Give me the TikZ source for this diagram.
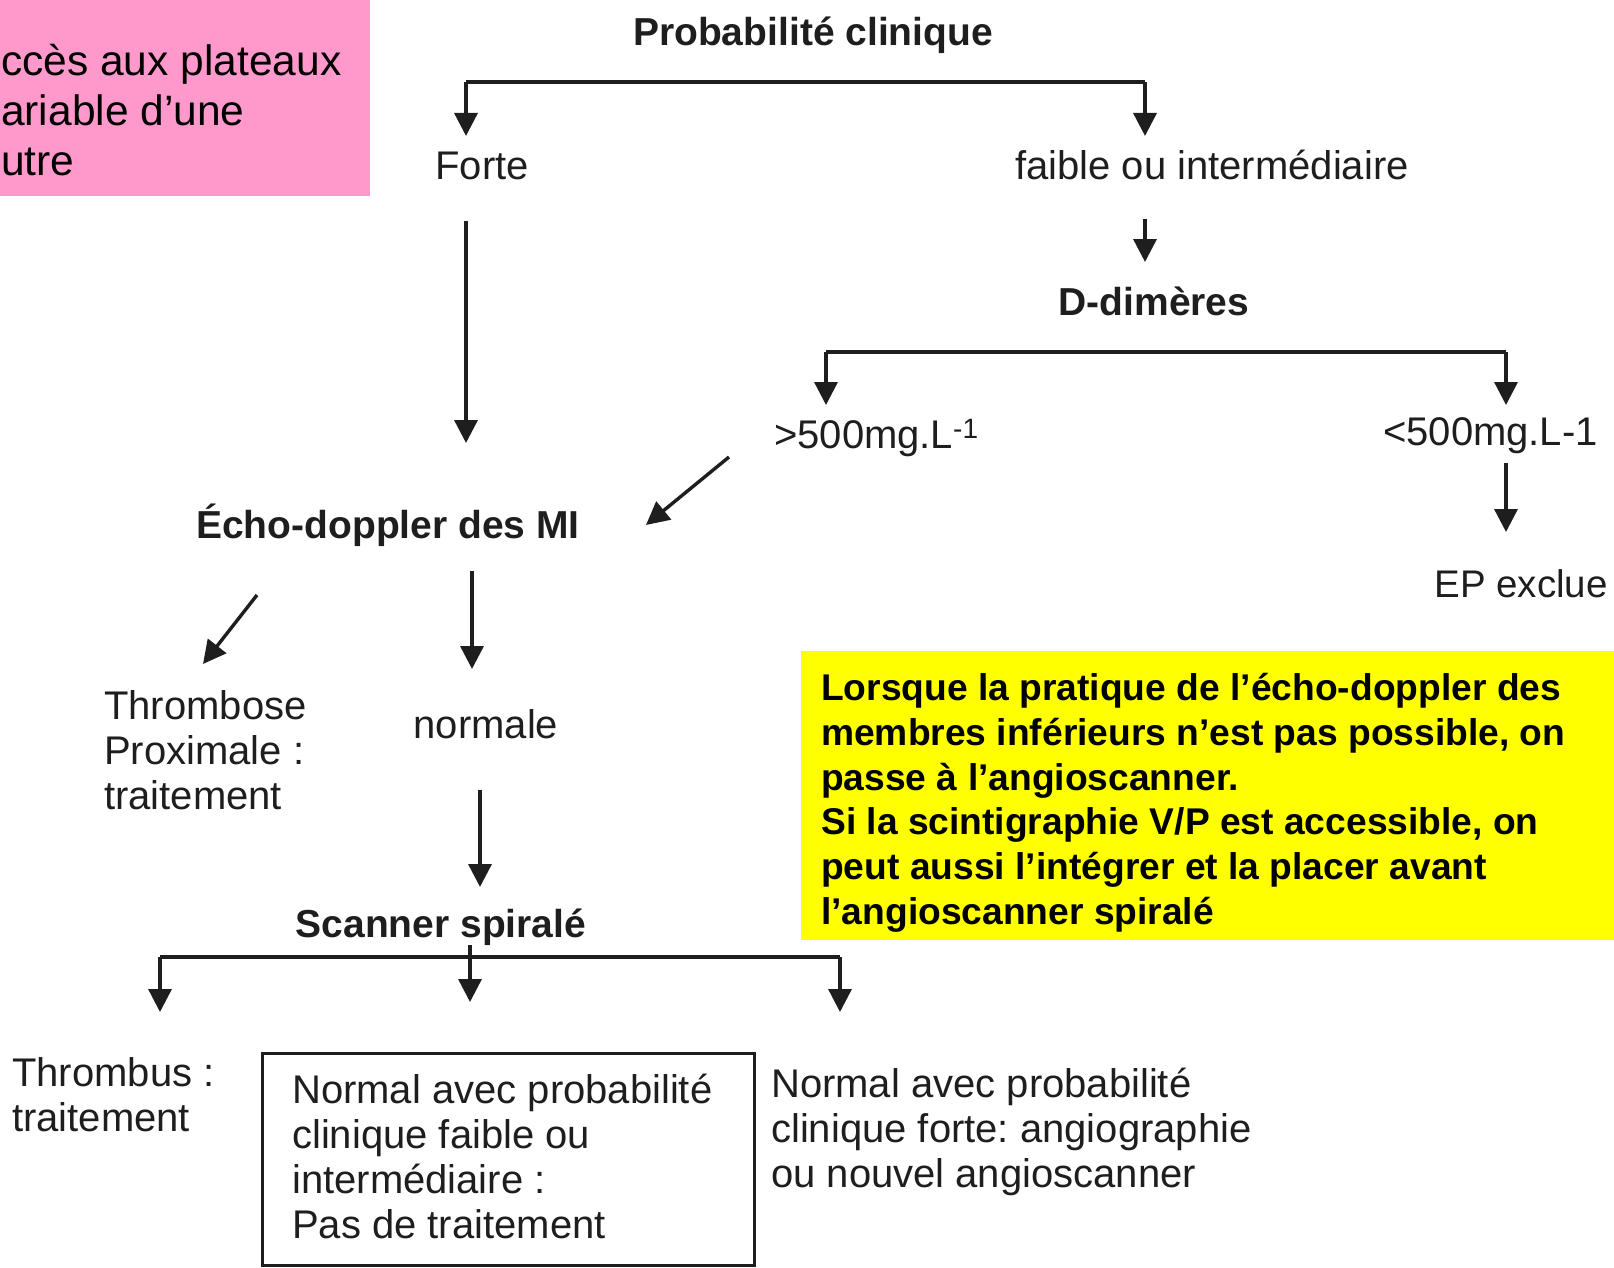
\documentclass[tikz,border=0pt]{standalone}
\usepackage{fontspec}
\setmainfont{Liberation Sans}
\usetikzlibrary{arrows.meta}
\definecolor{pinkc}{RGB}{255,153,204}
\definecolor{yellowc}{RGB}{255,255,0}
\definecolor{inkc}{RGB}{30,30,30}
\frenchspacing
\begin{document}
\begin{tikzpicture}[x=1pt,y=-1pt,
  txt/.style={inner sep=0pt, text=inkc, align=left, font=\fontsize{40}{45}\selectfont\frenchspacing},
  btxt/.style={inner sep=0pt, text=inkc, font=\fontsize{39}{45}\selectfont\bfseries},
  conn/.style={draw=inkc, line width=3.4pt},
  arr/.style={conn, -{Triangle[length=23pt,width=23pt]}},
]
\useasboundingbox (0,0) rectangle (1614,1268);

% pink note (clipped at left edge)
\fill[pinkc] (0,0) rectangle (370,196);
\node[inner sep=0pt, anchor=north west, align=left, font=\fontsize{42.5}{50}\selectfont] (pinknote) at (1,44)
  {ccès aux plateaux\\ariable d’une\\utre};

% yellow note
\fill[yellowc] (801,651) rectangle (1614,940);
\node[inner sep=0pt, anchor=north west, align=left, font=\fontsize{37.2}{44.8}\selectfont\bfseries] (yellownote) at (821,673)
  {Lorsque la pratique de l’écho-doppler des\\
   membres inférieurs n’est pas possible, on\\
   passe à l’angioscanner.\\
   Si la scintigraphie V/P est accessible, on\\
   peut aussi l’intégrer et la placer avant\\
   l’angioscanner spiralé};

% nodes
\node[btxt, anchor=base] (prob) at (813,46) {Probabilité clinique};
\node[txt, anchor=base] (forte) at (482,180) {Forte};
\node[txt, anchor=base] (faible) at (1212,180) {faible ou intermédiaire};
\node[btxt, anchor=base] (ddim) at (1154,315) {D-dimères};
\node[txt, anchor=base west] (sup) at (774,448) {>500mg.L\textsuperscript{-1}};
\node[txt, anchor=base east] (inf) at (1598,445) {<500mg.L-1};
\node[txt, anchor=base east, font=\fontsize{38.5}{45}\selectfont] (epex) at (1608,597) {EP exclue};
\node[btxt, anchor=base] (echo) at (388,538) {Écho-doppler des MI};
\node[txt, anchor=north west] (thromb) at (104,690) {Thrombose\\Proximale :\\traitement};
\node[txt, anchor=base] (normale) at (486,738) {normale};
\node[btxt, anchor=base] (scan) at (441,937) {Scanner spiralé};
\node[txt, anchor=north west] (thrombus) at (12,1057) {Thrombus :\\traitement};
\node[draw=inkc, line width=3pt, inner sep=0pt, minimum width=492pt, minimum height=212pt, anchor=north west] (box) at (261,1052) {};
\node[txt, anchor=north west] (normfaible) at (292,1074)
  {Normal avec probabilité\\clinique faible ou\\intermédiaire :\\Pas de traitement};
\node[txt, anchor=north west] (normforte) at (771,1068)
  {Normal avec probabilité\\clinique forte: angiographie\\ou nouvel angioscanner};

% connector points
\coordinate (pL) at (466,82);
\coordinate (pR) at (1145,82);
\coordinate (pLt) at (466,136);
\coordinate (pRt) at (1145,136);
\coordinate (fs) at (466,221);
\coordinate (fe) at (466,443);
\coordinate (ws) at (1145,219);
\coordinate (we) at (1145,262);
\coordinate (dL) at (826,352);
\coordinate (dR) at (1506,352);
\coordinate (dLt) at (826,405);
\coordinate (dRt) at (1506,405);
\coordinate (is) at (1506,463);
\coordinate (ie) at (1506,532);
\coordinate (ss) at (729,457);
\coordinate (se) at (646,525);
\coordinate (es1) at (257,595);
\coordinate (ee1) at (203,664);
\coordinate (es2) at (472,571);
\coordinate (ee2) at (472,669);
\coordinate (ns) at (480,790);
\coordinate (ne) at (480,887);
\coordinate (sL) at (160,957);
\coordinate (sR) at (840,957);
\coordinate (sM) at (470,945);
\coordinate (sLt) at (160,1012);
\coordinate (sRt) at (840,1012);
\coordinate (sMt) at (470,1002);

% connectors
\draw[conn] (pL) -- (pR);
\draw[arr] (pL) -- (pLt);
\draw[arr] (pR) -- (pRt);
\draw[arr] (fs) -- (fe);
\draw[arr] (ws) -- (we);
\draw[conn] (dL) -- (dR);
\draw[arr] (dL) -- (dLt);
\draw[arr] (dR) -- (dRt);
\draw[arr] (is) -- (ie);
\draw[arr] (ss) -- (se);
\draw[arr] (es1) -- (ee1);
\draw[arr] (es2) -- (ee2);
\draw[arr] (ns) -- (ne);
\draw[conn] (sL) -- (sR);
\draw[arr] (sL) -- (sLt);
\draw[arr] (sR) -- (sRt);
\draw[arr] (sM) -- (sMt);
\end{tikzpicture}
\end{document}
